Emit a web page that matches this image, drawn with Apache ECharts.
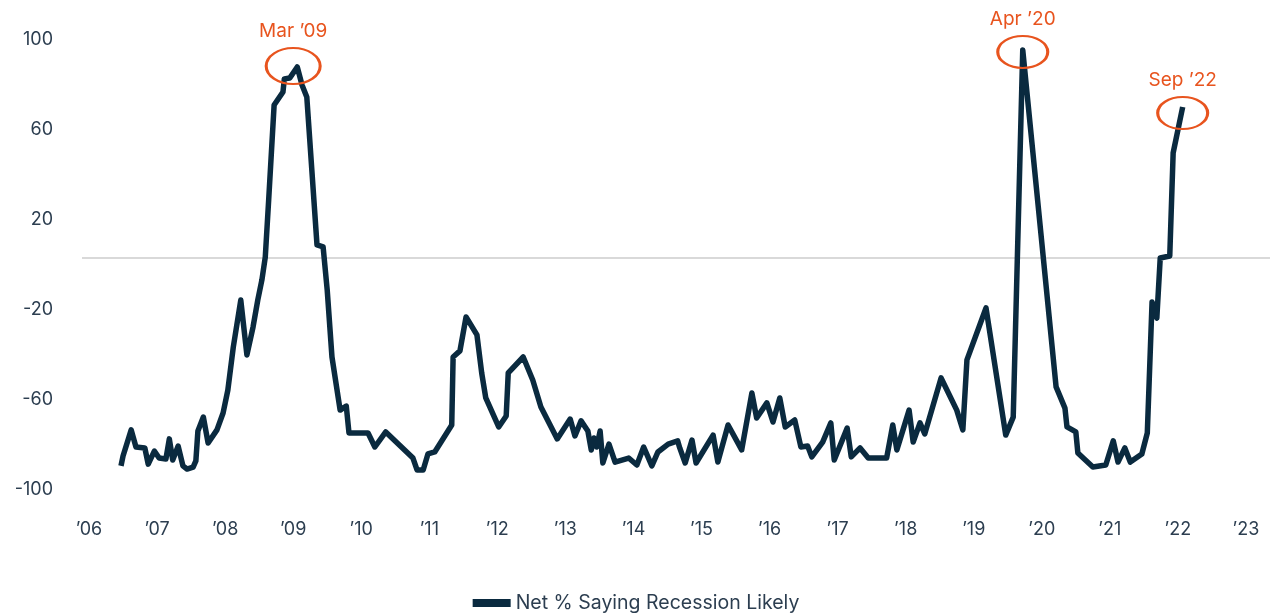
<!DOCTYPE html>
<html>
<head>
<meta charset="utf-8">
<script src="https://cdn.jsdelivr.net/npm/echarts@6/dist/echarts.min.js"></script>
<style>
    html, body { margin: 0; padding: 0; background: #fff; }
    #cn { width: 1272px; height: 615px; }
</style>
</head>
<body>
<div id="cn"></div>
<script>
'use strict';

// survey dates as fractional years
const years = [
    2006.47, 2006.50, 2006.62, 2006.69, 2006.82, 2006.87, 2006.96, 2007.03, 2007.13, 2007.18,
    2007.23, 2007.31, 2007.38, 2007.44, 2007.53, 2007.57, 2007.60, 2007.68, 2007.75, 2007.88,
    2007.97, 2008.04, 2008.12, 2008.23, 2008.32, 2008.41, 2008.48, 2008.54, 2008.59, 2008.64,
    2008.72, 2008.85, 2008.87, 2008.95, 2009.06, 2009.13, 2009.20, 2009.35, 2009.44, 2009.50,
    2009.57, 2009.69, 2009.78, 2009.82, 2010.10, 2010.20, 2010.36, 2010.76, 2010.82, 2010.91,
    2010.98, 2011.08, 2011.33, 2011.35, 2011.45, 2011.54, 2011.70, 2011.77, 2011.83, 2012.02,
    2012.13, 2012.16, 2012.38, 2012.52, 2012.64, 2012.88, 2013.07, 2013.14, 2013.23, 2013.33,
    2013.38, 2013.42, 2013.46, 2013.51, 2013.55, 2013.64, 2013.73, 2013.93, 2014.05, 2014.15,
    2014.27, 2014.36, 2014.51, 2014.65, 2014.68, 2014.76, 2014.86, 2014.92, 2015.17, 2015.24,
    2015.39, 2015.59, 2015.74, 2015.81, 2015.96, 2016.05, 2016.15, 2016.23, 2016.37, 2016.46,
    2016.56, 2016.62, 2016.78, 2016.90, 2016.95, 2017.14, 2017.20, 2017.33, 2017.45, 2017.72,
    2017.81, 2017.87, 2018.05, 2018.11, 2018.21, 2018.28, 2018.52, 2018.75, 2018.84, 2018.90,
    2019.18, 2019.47, 2019.58, 2019.72, 2020.21, 2020.34, 2020.37, 2020.50, 2020.53, 2020.75,
    2020.94, 2021.05, 2021.12, 2021.22, 2021.30, 2021.47, 2021.55, 2021.62, 2021.69, 2021.74,
    2021.88, 2021.93, 2022.07
];

const netPct = [
    -92.4, -88.0, -76.4, -84.0, -84.4, -91.6, -85.8, -88.9, -89.3, -80.4,
    -89.8, -83.6, -92.4, -93.8, -92.9, -90.2, -76.9, -70.7, -82.2, -76.4,
    -68.9, -58.7, -39.6, -18.7, -43.1, -30.7, -18.7, -9.8, 0.4, 25.8,
    68.0, 73.8, 79.6, 80.0, 84.9, 76.9, 71.6, 5.8, 4.9, -14.2,
    -44.0, -67.6, -65.8, -77.8, -77.8, -84.0, -77.3, -88.9, -94.2, -94.2,
    -87.1, -86.2, -74.2, -44.0, -41.3, -26.2, -34.2, -51.1, -62.2, -75.1,
    -70.2, -51.1, -44.0, -54.2, -66.2, -80.4, -71.6, -79.1, -72.4, -76.9,
    -85.3, -80.0, -84.0, -76.9, -91.1, -82.7, -90.7, -88.9, -92.0, -84.0,
    -92.4, -86.2, -82.7, -81.3, -84.4, -91.1, -80.9, -91.1, -78.7, -90.7,
    -74.2, -85.3, -60.0, -71.1, -64.4, -72.9, -62.2, -75.1, -72.0, -84.0,
    -83.6, -88.4, -81.8, -73.3, -89.8, -75.6, -88.4, -84.4, -88.9, -88.9,
    -74.2, -85.3, -67.6, -81.8, -73.3, -78.2, -53.3, -67.6, -76.4, -45.3,
    -22.2, -78.7, -70.7, 92.4, -57.3, -66.7, -75.1, -77.3, -86.7, -92.9,
    -92.0, -81.3, -90.7, -84.4, -90.7, -87.1, -77.8, -19.6, -26.7, 0.0,
    0.9, 46.7, 67.1
];

const xTicks = [2006, 2007, 2008, 2009, 2010, 2011, 2012, 2013, 2014, 2015, 2016, 2017, 2018, 2019, 2020, 2021, 2022, 2023];
const yTicks = [-100, -60, -20, 20, 60, 100];

// callouts: label, x (year), y (value)
const noteNames = ['Mar ’09', 'Apr ’20', 'Sep ’22'];
const noteX = [2009.00, 2019.72, 2022.07];
const noteY = [85.3, 91.6, 64.4];

const colLine = '#0a2a3f';
const colText = '#2c3e50';
const colNote = '#e8541e';
const strFont = 'Inter, Roboto, "Noto Sans", sans-serif';

const arrPlot = years.map((y, i) => [y, netPct[i]]);

const arrNotes = noteNames.map((n, i) => ({
    name: n,
    coord: [noteX[i], noteY[i]],
    symbolSize: i === 0 ? [54, 36] : [50, 32]
}));

const optionChart = {
    animation: false,
    textStyle: {
        fontFamily: strFont
    },
    grid: {
        left: 82,
        right: 2,
        top: 33,
        bottom: 132
    },
    legend: {
        data: ['Net % Saying Recession Likely'],
        left: 'center',
        bottom: -3,
        icon: 'rect',
        itemWidth: 38,
        itemHeight: 8,
        itemGap: 10,
        textStyle: {
            color: colText,
            fontSize: 19.5,
            fontFamily: strFont
        }
    },
    xAxis: {
        type: 'value',
        min: 2005.897,
        max: 2023.353,
        axisLine: { show: false },
        axisTick: { show: false },
        splitLine: { show: false },
        axisLabel: {
            customValues: xTicks,
            margin: 38,
            color: colText,
            fontSize: 18,
            fontFamily: strFont,
            formatter: (v) => '’' + String(v).slice(2)
        }
    },
    yAxis: {
        type: 'value',
        min: -100,
        max: 100,
        axisLine: { show: false },
        axisTick: { show: false },
        splitLine: { show: false },
        axisLabel: {
            customValues: yTicks,
            margin: 29,
            color: colText,
            fontSize: 18,
            fontFamily: strFont,
            verticalAlign: 'top', // 原図はラベルが少し下
            lineHeight: 14
        }
    },
    series: [{
        name: 'Net % Saying Recession Likely',
        type: 'line',
        data: arrPlot,
        showSymbol: false,
        symbol: 'none',
        lineStyle: {
            width: 5.5,
            color: colLine,
            join: 'round'
        },
        itemStyle: {
            color: colLine
        },
        markLine: {
            silent: true,
            symbol: ['none', 'none'],
            label: { show: false },
            lineStyle: {
                color: '#d9d9d9',
                width: 2,
                type: 'solid'
            },
            data: [{ yAxis: 0 }],
            z: 1
        },
        markPoint: {
            silent: true,
            symbol: 'circle',
            itemStyle: {
                color: 'rgba(0,0,0,0)',
                borderColor: colNote,
                borderWidth: 2.5
            },
            label: {
                show: true,
                position: 'top',
                distance: 6,
                color: colNote,
                fontSize: 19,
                fontFamily: strFont,
                formatter: (p) => p.name
            },
            data: arrNotes
        }
    }]
};

const echartsChart = echarts.init(document.getElementById('cn'));
echartsChart.setOption(optionChart);
</script>
</body>
</html>
